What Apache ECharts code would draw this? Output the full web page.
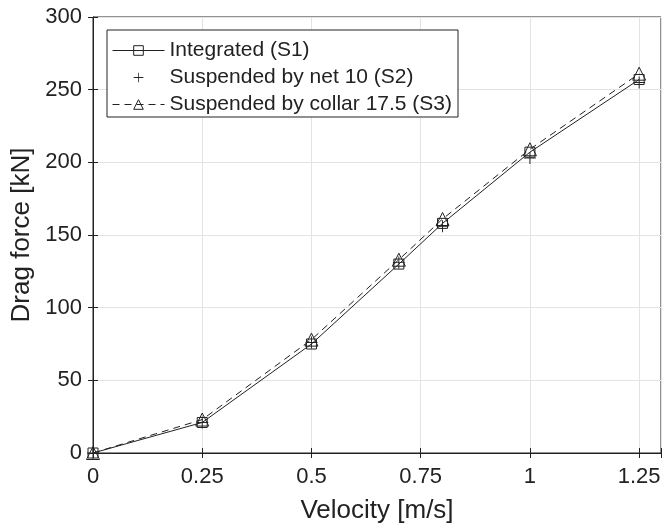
<!DOCTYPE html>
<html><head><meta charset="utf-8">
<script src="https://cdn.jsdelivr.net/npm/echarts@6/dist/echarts.min.js"></script>
<style>html,body{margin:0;padding:0;background:#fff}#c{width:667px;height:529px}</style>
</head><body><div id="c"></div>
<script>
const velocity = [0, 0.25, 0.5, 0.7, 0.8, 1.0, 1.25];
const s1 = [0, 21, 75, 130, 158, 207, 257];
const s2 = [0, 21, 76, 131, 156, 203, 255];
const s3 = [0, 23, 78, 133, 161, 209, 261];
const seriesNames = ['Integrated (S1)', 'Suspended by net 10 (S2)', 'Suspended by collar 17.5 (S3)'];
const xTickLabels = ['0', '0.25', '0.5', '0.75', '1', '1.25'];
const yTickLabels = ['0', '50', '100', '150', '200', '250', '300'];

const ink = '#222';
const font = 'Liberation Sans';
const plus = 'path://M4.6,0H5.4V10H4.6ZM0,4.6H10V5.4H0Z';
function pairs(ys){ return velocity.map((v,i)=>[v, ys[i]]); }

const chart = echarts.init(document.getElementById('c'));
chart.setOption({
  backgroundColor: '#fff',
  animation: false,
  textStyle: { fontFamily: font },
  grid: { left: 93, right: 6, top: 17, bottom: 76, show: true, borderColor: ink, borderWidth: 1 },
  legend: {
    orient: 'vertical', left: 107, top: 30,
    itemWidth: 52, itemHeight: 12, itemGap: 6,
    backgroundColor: '#fff', borderColor: ink, borderWidth: 1, borderRadius: 0,
    padding: [10, 6, 2, 5],
    lineStyle: { width: 1 },
    itemStyle: { borderWidth: 1 },
    textStyle: { fontSize: 21, color: ink, fontFamily: font },
    data: seriesNames
  },
  xAxis: [{
    type: 'value', min: 0, max: 1.3, interval: 0.25,
    name: 'Velocity [m/s]', nameLocation: 'middle', nameGap: 45,
    nameTextStyle: { fontSize: 26, color: ink },
    axisLine: { lineStyle: { color: ink } },
    axisTick: { inside: true, length: 5, lineStyle: { color: ink } },
    axisLabel: { fontSize: 22, color: ink, margin: 13,
      formatter: v => { const s = String(Math.round(v*100)/100); return xTickLabels.includes(s) ? s : ''; } },
    splitLine: { show: true, lineStyle: { color: '#e3e3e3' } }
  }, {
    type: 'value', min: 0, max: 1.3, interval: 0.25, position: 'top',
    axisLine: { show: false }, axisLabel: { show: false }, splitLine: { show: false },
    axisTick: { inside: true, length: 5, lineStyle: { color: ink } }
  }],
  yAxis: [{
    type: 'value', min: 0, max: 300, interval: 50,
    name: 'Drag force [kN]', nameLocation: 'middle', nameGap: 57,
    nameTextStyle: { fontSize: 26, color: ink },
    axisLine: { show: true, lineStyle: { color: ink } },
    axisTick: { show: true, inside: true, length: 5, lineStyle: { color: ink } },
    axisLabel: { fontSize: 22, color: ink, margin: 11,
      formatter: v => yTickLabels.includes(String(v)) ? String(v) : '' },
    splitLine: { show: true, lineStyle: { color: '#e3e3e3' } }
  }, {
    type: 'value', min: 0, max: 300, interval: 50, position: 'right',
    axisLine: { show: false }, axisLabel: { show: false }, splitLine: { show: false },
    axisTick: { show: true, inside: true, length: 5, lineStyle: { color: ink } }
  }],
  series: [{
    name: seriesNames[0], type: 'line', data: pairs(s1),
    symbol: 'rect', symbolSize: 10,
    itemStyle: { color: 'transparent', borderColor: ink, borderWidth: 1 },
    lineStyle: { color: ink, width: 1 }
  }, {
    name: seriesNames[1], type: 'line', data: pairs(s2),
    symbol: plus, symbolSize: 12,
    itemStyle: { color: ink, borderWidth: 0 },
    lineStyle: { color: ink, width: 0, opacity: 0 }
  }, {
    name: seriesNames[2], type: 'line', data: pairs(s3),
    symbol: 'triangle', symbolSize: 13,
    itemStyle: { color: 'transparent', borderColor: ink, borderWidth: 1 },
    lineStyle: { color: ink, width: 1, type: [7, 5] }
  }]
});
</script></body></html>
